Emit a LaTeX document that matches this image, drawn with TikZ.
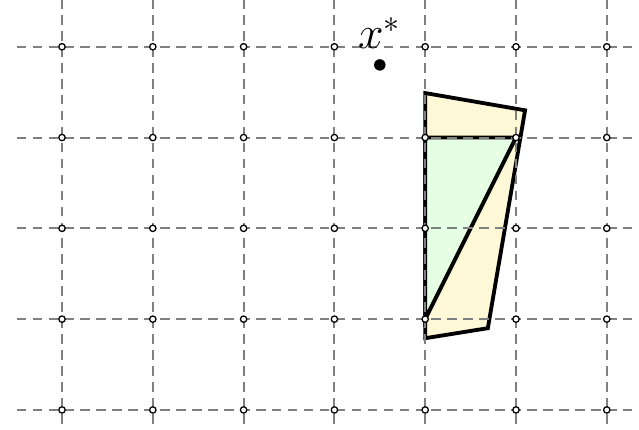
\documentclass[tikz,border=0pt]{standalone}
\usepackage{amsmath, amssymb}
\usetikzlibrary{calc, positioning}
\tikzstyle{gp}=[shape=circle, minimum size=2pt, inner sep=0, draw=black, fill=white, line width=0.4pt]
\tikzstyle{gl}=[gray, line width=0.6pt, dash pattern=on 3pt off 2pt]
\tikzstyle{opt}=[shape=circle, minimum size=3.6pt, inner sep=0, fill=black]
\definecolor{ylw}{RGB}{255,248,214}
\definecolor{grn}{RGB}{228,255,228}

\begin{document}
\begin{tikzpicture}
\clip (-0.683,-0.22) rectangle (6.355,4.515);
\foreach \i in {0,...,6} {\foreach \j in {0,...,4} {\coordinate (c\i\j) at (\i,\j);}}
\coordinate (p1) at (4,3.49);
\coordinate (p2) at (5.1,3.30);
\coordinate (p3) at (4.69,0.90);
\coordinate (p4) at (4,0.79);
\filldraw[fill=ylw, line width=1.2pt, line join=miter] (p1)--(p2)--(p3)--(p4)--cycle;
\filldraw[fill=grn, line width=1.2pt] (c43)--(c53)--(c41)--cycle;
\foreach \j in {0,...,4} {\draw[gl] (-0.5,\j)--(6.6,\j);}
\foreach \i in {0,...,6} {\draw[gl] (\i,4.7)--(\i,-0.4);}
\foreach \i in {0,...,6} {\foreach \j in {0,...,4} {\node at (c\i\j)[gp](g\i\j){};}}
\node at (3.5,3.8)[opt](xs){};
\node[above=0.1cm of xs, inner sep=0, font=\Large] (xl) {$x^*$};
\end{tikzpicture}
\end{document}
